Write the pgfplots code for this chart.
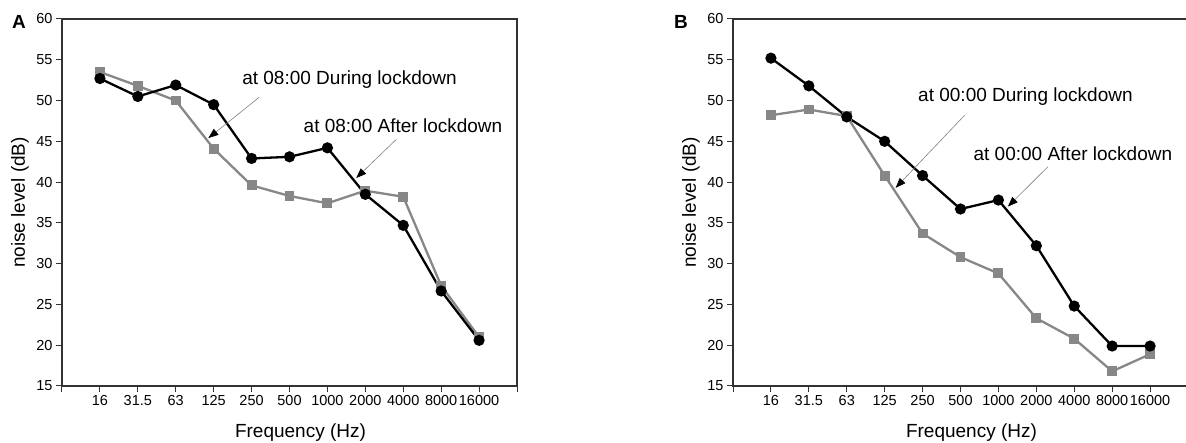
\documentclass[border=0pt]{standalone}
\usepackage{pgfplots}
\pgfplotsset{compat=1.18}
\usepackage{fontspec}
\setmainfont{Liberation Sans}
\usetikzlibrary{arrows.meta}
\definecolor{dgray}{RGB}{135,135,135}
\definecolor{spine}{RGB}{50,50,50}

\pgfplotstableread{
x  AD    AA     BD    BA
0  53.5  52.7   48.2  55.2
1  51.8  50.5   48.9  51.8
2  50.0  51.9   48.1  48.0
3  44.1  49.5   40.8  45.0
4  39.6  42.9   33.7  40.8
5  38.3  43.1   30.8  36.7
6  37.4  44.2   28.8  37.8
7  38.95 38.5   23.3  32.2
8  38.2  34.7   20.8  24.8
9  27.3  26.65  16.8  19.9
10 21.0  20.6   18.9  19.9
}\noisedata

\tikzset{
  grayline/.style={dgray, line width=2.3pt, mark=square*, mark size=3.8pt, mark options={solid}},
  blackline/.style={black, line width=2.3pt, mark=*, mark size=4.4pt, mark options={solid}},
  annot/.style={anchor=west, inner sep=0pt, font=\fontsize{19}{22}\selectfont},
  pointer/.style={draw=gray, line width=0.6pt, -{Triangle[length=10pt,width=7.5pt,black]}},
}

\pgfplotsset{
  myaxis/.style={
    scale only axis, width=455pt, height=367pt,
    xmin=-1, xmax=11, ymin=15, ymax=60,
    xtick={-1,0,1,2,3,4,5,6,7,8,9,10,11},
    xticklabels={{},16,31.5,63,125,250,500,1000,2000,4000,8000,16000,{}},
    ytick={15,20,25,30,35,40,45,50,55,60},
    tick align=outside, xtick pos=bottom, ytick pos=left,
    major tick length=6pt,
    tick style={spine, line width=1pt},
    axis line style={spine, line width=1.3pt},
    ticklabel style={font=\fontsize{14.5}{17}\selectfont},
    /pgf/number format/assume math mode=true,
    xlabel={Frequency (Hz)}, ylabel={noise level (dB)},
    label style={font=\fontsize{19}{22}\selectfont},
    xlabel style={at={(axis description cs:0.5,0)}, anchor=base, yshift=-52pt, xshift=11pt},
    ylabel style={at={(axis description cs:0,0.5)}, anchor=center, yshift=42pt},
    clip=false,
  }
}

\begin{document}
\begin{tikzpicture}
\useasboundingbox (0,0) rectangle (1186pt,443pt);

\begin{axis}[myaxis, at={(62pt,57pt)}, anchor=south west]
  \addplot[grayline] table[x=x, y=AD] {\noisedata};
  \addplot[blackline] table[x=x, y=AA] {\noisedata};
  \node[annot] at (axis cs:3.75,52.6) {at 08:00 During lockdown};
  \node[annot] at (axis cs:5.37,46.9) {at 08:00 After lockdown};
  \draw[pointer] (axis cs:4.2,50.4) -- (axis cs:2.86,45.4);
  \draw[pointer] (axis cs:7.82,45.25) -- (axis cs:6.76,40.5);
\end{axis}

\begin{axis}[myaxis, at={(733pt,57pt)}, anchor=south west]
  \addplot[grayline] table[x=x, y=BD] {\noisedata};
  \addplot[blackline] table[x=x, y=BA] {\noisedata};
  \node[annot] at (axis cs:3.88,50.5) {at 00:00 During lockdown};
  \node[annot] at (axis cs:5.34,43.5) {at 00:00 After lockdown};
  \draw[pointer] (axis cs:5.11,48.2) -- (axis cs:3.29,39.3);
  \draw[pointer] (axis cs:7.31,41.9) -- (axis cs:6.25,37.0);
\end{axis}

\node[anchor=west, inner sep=0pt, font=\bfseries\fontsize{19}{21}\selectfont] at (12pt,421.5pt) {A};
\node[anchor=west, inner sep=0pt, font=\bfseries\fontsize{19}{21}\selectfont] at (674pt,421.5pt) {B};
\end{tikzpicture}
\end{document}
